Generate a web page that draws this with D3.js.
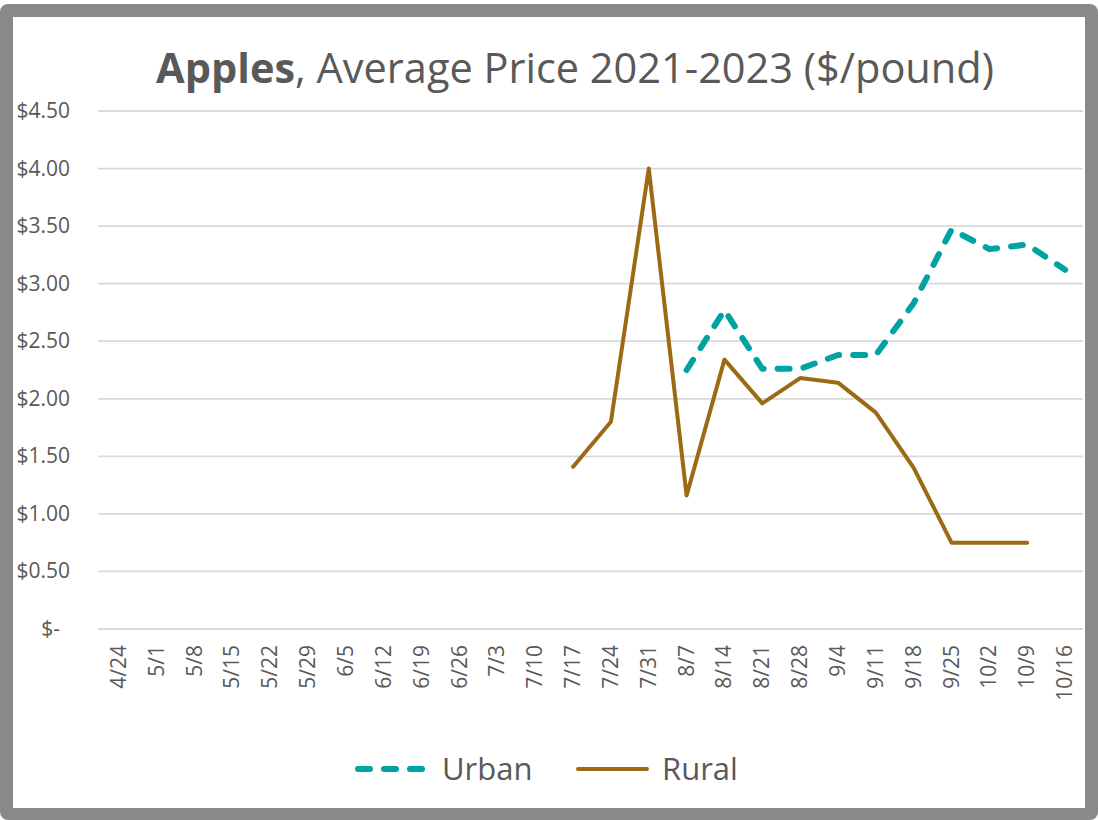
<!DOCTYPE html>
<html>
<head>
<meta charset="utf-8">
<script src="https://cdn.jsdelivr.net/npm/d3@7"></script>
<style>
  body { margin: 0; background: #fff; }
  text { font-family: "Open Sans", "Liberation Sans", sans-serif; fill: #595959; }
</style>
</head>
<body>
<div id="chart"></div>
<script>
// week labels on the x axis
let weeks = ["4/24", "5/1", "5/8", "5/15", "5/22", "5/29", "6/5", "6/12", "6/19", "6/26",
  "7/3", "7/10", "7/17", "7/24", "7/31", "8/7", "8/14", "8/21", "8/28", "9/4",
  "9/11", "9/18", "9/25", "10/2", "10/9", "10/16"];

// price series, null = no data that week
let urban = [null, null, null, null, null, null, null, null, null, null,
  null, null, null, null, null, 2.25, 2.77, 2.26, 2.26, 2.38,
  2.38, 2.83, 3.47, 3.30, 3.34, 3.12];
let rural = [null, null, null, null, null, null, null, null, null, null,
  null, null, 1.41, 1.80, 4.00, 1.16, 2.34, 1.96, 2.18, 2.14,
  1.88, 1.40, 0.75, 0.75, 0.75, null];

let yTicks = [0, 0.5, 1, 1.5, 2, 2.5, 3, 3.5, 4, 4.5];

let W = 1098, H = 820;
let svg = d3.select("#chart").append("svg")
  .attr("width", W)
  .attr("height", H);

// grey frame
svg.append("rect")
  .attr("x", 0).attr("y", 4)
  .attr("width", W).attr("height", H - 4)
  .attr("rx", 8)
  .style("fill", "#898989");
svg.append("rect")
  .attr("x", 13).attr("y", 17)
  .attr("width", 1072).attr("height", 791)
  .style("fill", "#ffffff");

let plotLeft = 100, plotRight = 1084, plotTop = 111, plotBottom = 629;

let x = d3.scaleBand()
  .domain(weeks)
  .range([plotLeft, plotRight]);

let y = d3.scaleLinear()
  .domain([0, 4.5])
  .range([plotBottom, plotTop]);

// gridlines
svg.append("g")
  .selectAll("line")
  .data(yTicks)
  .join("line")
    .attr("x1", plotLeft - 2)
    .attr("x2", plotRight - 1)
    .attr("y1", d => y(d))
    .attr("y2", d => y(d))
    .style("stroke", "#d9d9d9")
    .style("stroke-width", 1.8);

// y axis labels
svg.append("g")
  .selectAll("text")
  .data(yTicks)
  .join("text")
    .attr("x", d => d === 0 ? 60 : 70)
    .attr("y", d => y(d) + 7)
    .attr("text-anchor", "end")
    .style("font-size", "21px")
    .text(d => d === 0 ? "$-" : "$" + d3.format(".2f")(d));

// x axis labels, rotated
svg.append("g")
  .selectAll("text")
  .data(weeks)
  .join("text")
    .attr("text-anchor", "end")
    .attr("transform", d => "translate(" + (x(d) + x.bandwidth() / 2 + 7) + "," + 645 + ") rotate(-90)")
    .style("font-size", "21px")
    .text(d => d);

let line = d3.line()
  .defined(d => d.v !== null)
  .x(d => x(d.w) + x.bandwidth() / 2)
  .y(d => y(d.v));

let urbanData = weeks.map((w, i) => ({w: w, v: urban[i]}));
let ruralData = weeks.map((w, i) => ({w: w, v: rural[i]}));

svg.append("path")
  .datum(urbanData)
  .attr("d", line)
  .style("fill", "none")
  .style("stroke", "#00A3A1")
  .style("stroke-width", 6)
  .style("stroke-linecap", "round")
  .style("stroke-linejoin", "round")
  .style("stroke-dasharray", "12, 14");

svg.append("path")
  .datum(ruralData)
  .attr("d", line)
  .style("fill", "none")
  .style("stroke", "#9C6A14")
  .style("stroke-width", 4)
  .style("stroke-linejoin", "round")
  .style("stroke-linecap", "round");

// title
let title = svg.append("text")
  .attr("x", 575)
  .attr("y", 83)
  .attr("text-anchor", "middle")
  .style("font-size", "41.5px");
title.append("tspan").style("font-weight", "bold").text("Apples");
title.append("tspan").text(", Average Price 2021-2023 ($/pound)");

// legend
let legend = svg.append("g");
legend.append("line")
  .attr("x1", 358).attr("x2", 425)
  .attr("y1", 769).attr("y2", 769)
  .style("stroke", "#00A3A1")
  .style("stroke-width", 6)
  .style("stroke-linecap", "round")
  .style("stroke-dasharray", "12, 14");
legend.append("text")
  .attr("x", 442).attr("y", 780)
  .style("font-size", "31px")
  .text("Urban");
legend.append("line")
  .attr("x1", 578).attr("x2", 647)
  .attr("y1", 769).attr("y2", 769)
  .style("stroke", "#9C6A14")
  .style("stroke-width", 4)
  .style("stroke-linecap", "round");
legend.append("text")
  .attr("x", 662).attr("y", 780)
  .style("font-size", "31px")
  .text("Rural");
</script>
</body>
</html>
